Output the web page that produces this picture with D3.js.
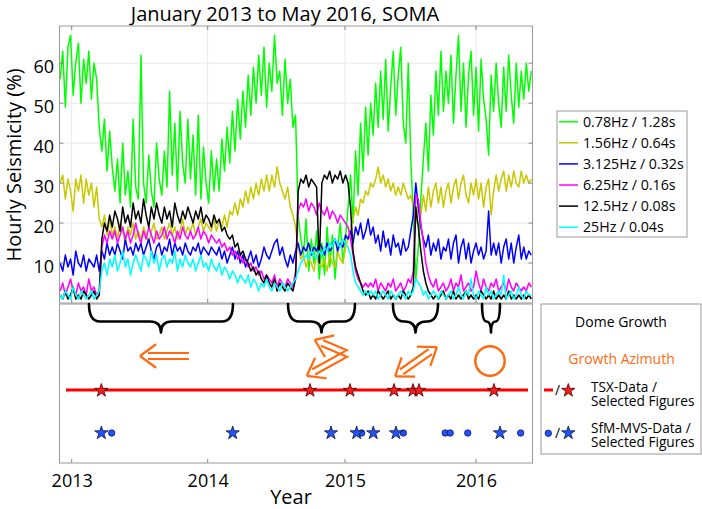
<!DOCTYPE html>
<html>
<head>
<meta charset="utf-8">
<script src="https://cdn.jsdelivr.net/npm/d3@7"></script>
<style>
  body { margin: 0; background: #fff; }
  svg text { font-family: "Open Sans", "Noto Sans", sans-serif; }
</style>
</head>
<body>
<svg id="chart" width="702" height="509"></svg>
<script>
// ---- data ----
var years = [2013, 2014, 2015, 2016];
var yTicks = [10, 20, 30, 40, 50, 60];
var seriesNames = ['0.78Hz / 1.28s', '1.56Hz / 0.64s', '3.125Hz / 0.32s', '6.25Hz / 0.16s', '12.5Hz / 0.08s', '25Hz / 0.04s'];

// weekly samples, first one on 1 Dec 2012
var startYear = 2012.915;
var stepYears = 7 / 365.25;

var green = [56,63,49,64,67,52,60,65,50,61, 55,63,51,60,56,44,38,46,33,43,
  34,28,36,25,40,27,33,24,46,29, 26,62,30,25,37,28,24,40,31,27,
  38,29,53,32,45,28,48,35,30,46, 31,42,27,47,26,39,30,25,38,28,
  36,28,41,33,44,35,48,38,51,41, 53,44,57,47,59,50,62,52,64,49,
  60,53,67,55,58,47,61,50,56,44, 47,22,16,12,21,8,16,10,18,6,
  15,7,19,9,17,6,14,20,10,16, 24,32,20,38,27,45,33,49,37,50,
  42,55,44,58,46,61,43,54,63,47, 57,64,45,40,60,36,22,6,14,26,
  36,45,33,52,42,58,47,63,48,58, 50,62,45,57,67,48,60,44,57,63,
  47,59,43,61,51,46,37,57,48,60, 50,44,59,48,62,52,45,60,49,58,
  51,60,53,58];
var yellow = [30,32,26,31,28,23,31,28,32,25, 31,27,30,24,29,21,19,22,17,21,
  17,19,16,20,18,15,19,17,20,16, 18,16,19,17,15,18,20,16,17,19,
  16,18,20,17,19,16,18,21,17,19, 18,20,17,19,21,18,20,19,18,21,
  18,21,19,22,19,23,22,25,22,26, 24,28,25,29,26,30,27,31,28,32,
  28,32,29,34,30,28,26,29,24,22, 19,14,11,12,9,11,10,8,12,10,
  9,11,8,12,10,9,13,11,10,14, 16,19,21,24,22,26,25,28,27,30,
  29,31,34,30,32,29,31,28,30,27, 29,27,30,28,26,27,24,20,25,22,
  27,23,29,24,28,30,25,29,24,28, 30,25,29,31,26,30,32,27,25,30,
  27,31,26,30,24,29,31,22,28,32, 28,31,33,28,32,29,33,30,29,33,
  30,32,30,31];
var blue = [10,8,12,9,11,7,13,10,9,12, 8,11,10,9,12,8,13,11,15,12,
  14,12,15,13,11,16,13,14,12,15, 13,15,12,14,16,13,11,14,15,12,
  14,13,16,12,15,13,14,12,15,13, 12,14,13,15,12,14,13,12,14,13,
  12,14,11,13,10,12,14,11,13,10, 12,9,11,13,10,12,9,11,14,12,
  11,13,15,16,12,14,11,9,12,10, 13,15,12,14,13,15,12,14,13,15,
  14,12,15,13,14,16,13,15,14,17, 16,18,15,19,17,20,16,18,21,17,
  19,15,17,13,18,14,16,12,17,14, 15,12,16,13,14,18,22,30,24,19,
  16,14,17,12,15,13,16,11,14,13, 16,11,15,17,10,14,16,11,15,10,
  13,15,12,14,11,13,23,12,15,12, 15,10,14,16,11,15,10,14,17,11,
  14,11,13,12];
var magenta = [3,5,2,4,6,3,2,5,3,4, 2,6,3,4,2,3,14,17,15,18,
  16,18,15,17,19,16,18,15,17,20, 17,15,18,16,19,17,15,18,16,17,
  19,16,18,17,15,18,16,19,17,16, 18,16,17,19,16,18,17,15,17,16,
  15,16,14,15,13,14,12,13,11,12, 10,11,9,10,8,9,7,8,6,7,
  6,5,7,4,6,5,4,6,5,4, 8,23,25,24,26,23,25,24,22,25,
  23,22,24,21,23,22,20,22,21,20, 19,16,12,8,6,5,4,5,4,5,
  4,6,3,5,4,3,5,4,6,3, 4,5,3,4,6,5,8,27,26,20,
  15,10,7,5,4,6,3,4,5,3, 4,6,3,5,4,7,3,4,5,3,
  4,8,5,3,6,4,3,5,4,6, 3,4,5,3,6,4,3,5,4,3,
  4,3,5,4];
var black = [2,1,3,1,2,4,1,2,1,3, 2,1,2,3,1,2,16,20,18,22,
  19,23,21,18,24,20,22,19,25,21, 23,20,26,22,19,24,21,25,22,20,
  24,21,23,19,25,22,20,23,21,24, 22,20,23,21,24,20,22,21,19,22,
  20,21,18,19,17,16,17,14,15,12, 13,11,10,8,9,7,8,6,5,7,
  5,4,6,3,5,4,3,5,4,3, 6,28,31,30,32,29,31,30,29,10,
  30,32,31,33,30,32,31,33,30,32, 30,24,13,9,7,5,3,2,3,1,
  2,1,3,2,1,2,3,1,2,1, 2,1,3,2,1,2,4,24,19,13,
  8,5,3,2,1,2,1,2,3,1, 2,1,3,1,2,1,2,3,1,2,
  1,2,1,3,2,1,2,1,3,1, 2,1,2,1,3,1,2,1,2,1,
  2,1,2,1];
var cyan = [2,1,3,2,1,4,2,1,3,2, 1,2,3,1,2,3,8,10,7,11,
  9,12,8,10,13,9,11,7,10,12, 10,8,12,11,9,13,10,12,8,11,
  12,9,11,10,13,8,11,9,12,10, 9,11,8,10,12,9,10,8,11,9,
  8,10,7,9,8,6,8,7,5,7, 6,5,7,4,6,5,3,5,4,6,
  4,3,5,4,3,5,4,3,4,5, 6,8,10,11,12,11,13,12,11,13,
  12,14,13,15,14,16,15,14,16,15, 14,12,8,5,4,3,2,3,2,3,
  2,3,1,2,3,2,1,3,2,1, 2,3,2,1,3,2,3,6,5,4,
  2,3,1,2,3,2,1,3,2,1, 2,3,1,2,4,2,1,3,2,6,
  2,1,3,2,1,4,2,3,1,2, 3,2,7,1,2,3,1,2,4,2,
  1,3,2,2];

// dome growth periods (start / end, decimal year)
var braceStart = [2013.127, 2014.585, 2015.366, 2016.046];
var braceEnd = [2014.184, 2015.076, 2015.710, 2016.183];

// growth azimuth: arrow origins (decimal year) and headings (deg, clockwise from north)
var azimuthYear = [2013.862, 2015.015, 2015.542];
var azimuthHeadings = [[270], [293, 241], [55, 235]];
var radialGrowthYear = [2016.107];

// TSX data span and selected figures
var tsxSpan = [2012.958, 2016.397];
var tsxSelected = [2013.218, 2014.745, 2015.038, 2015.374, 2015.519, 2015.565, 2016.137];
// SfM-MVS acquisitions and selected figures
var sfmData = [2013.294, 2015.127, 2015.445, 2015.765, 2015.803, 2015.937, 2016.341];
var sfmSelected = [2013.218, 2014.182, 2014.898, 2015.089, 2015.216, 2015.389, 2016.183];

// ---- layout ----
var seriesValues = [green, yellow, blue, magenta, black, cyan];
var seriesColors = ['#00ff00', '#c8c800', '#0000ff', '#ff00ff', '#000000', '#00ffff'];
var orange = '#ff6a10';
var frame = '#9a9a9a';

var plotL = 59.5, plotR = 532.5;
var topT = 26, topB = 303, botT = 304, botB = 463;

var svg = d3.select('#chart');

var x = d3.scaleLinear().domain(years).range([71.7, 207.7, 345, 476]);
var y = d3.scaleLinear().domain([0, 69.3]).range([topB, topT]);

// Title
svg.append('text')
  .attr('x', 285).attr('y', 21)
  .attr('text-anchor', 'middle')
  .attr('font-size', 20)
  .text('January 2013 to May 2016, SOMA');

// Top panel grid
var gridG = svg.append('g');
gridG.selectAll('.gx').data(years).join('line').attr('class', 'gx')
  .attr('x1', function(d) { return x(d); }).attr('x2', function(d) { return x(d); })
  .attr('y1', topT).attr('y2', topB)
  .attr('stroke', '#e8e8e8');
gridG.selectAll('.gy').data(yTicks).join('line').attr('class', 'gy')
  .attr('x1', plotL).attr('x2', plotR)
  .attr('y1', function(d) { return y(d); }).attr('y2', function(d) { return y(d); })
  .attr('stroke', '#e8e8e8');

// Series
svg.append('clipPath').attr('id', 'clipTop')
  .append('rect').attr('x', plotL).attr('y', topT).attr('width', plotR - plotL).attr('height', topB - topT);

var line = d3.line()
  .x(function(d, i) { return x(startYear + i * stepYears); })
  .y(function(d) { return y(d); });

svg.append('g').attr('clip-path', 'url(#clipTop)')
  .selectAll('path').data(seriesValues).join('path')
  .attr('d', line)
  .attr('fill', 'none')
  .attr('stroke', function(d, i) { return seriesColors[i]; })
  .attr('stroke-width', 1.5)
  .attr('stroke-linejoin', 'round');

// Top panel frame and inward ticks
svg.append('rect')
  .attr('x', plotL).attr('y', topT).attr('width', plotR - plotL).attr('height', topB - topT)
  .attr('fill', 'none').attr('stroke', frame);
var ticks = svg.append('g').attr('stroke', '#888');
years.forEach(function(d) {
  ticks.append('line').attr('x1', x(d)).attr('x2', x(d)).attr('y1', topT).attr('y2', topT + 4);
  ticks.append('line').attr('x1', x(d)).attr('x2', x(d)).attr('y1', topB).attr('y2', topB - 4);
  ticks.append('line').attr('x1', x(d)).attr('x2', x(d)).attr('y1', botB).attr('y2', botB - 4);
});
yTicks.forEach(function(d) {
  ticks.append('line').attr('x1', plotL).attr('x2', plotL + 4).attr('y1', y(d)).attr('y2', y(d));
  ticks.append('line').attr('x1', plotR).attr('x2', plotR - 4).attr('y1', y(d)).attr('y2', y(d));
});

// Y axis labels
svg.append('g')
  .attr('transform', 'translate(' + (plotL - 5.5) + ',0)')
  .call(d3.axisLeft(y).tickValues(yTicks).tickSize(0).tickPadding(0))
  .call(function(g) { g.select('.domain').remove(); })
  .attr('font-family', null).attr('font-size', 18)
  .selectAll('text').attr('dy', '0.5em').attr('fill', '#000');

svg.append('text')
  .attr('transform', 'translate(21,165) rotate(-90)')
  .attr('text-anchor', 'middle')
  .attr('font-size', 20)
  .text('Hourly Seismicity (%)');

// Top legend
var leg = svg.append('g');
leg.append('rect').attr('x', 557).attr('y', 111).attr('width', 130).attr('height', 126)
  .attr('fill', '#fff').attr('stroke', frame);
seriesNames.forEach(function(name, i) {
  var ry = 121.7 + i * 21.1;
  leg.append('line').attr('x1', 559).attr('x2', 578).attr('y1', ry).attr('y2', ry)
    .attr('stroke', seriesColors[i]).attr('stroke-width', 1.5);
  leg.append('text').attr('x', 583).attr('y', ry + 5).attr('font-size', 14.2).text(name);
});

// Bottom panel
svg.append('rect')
  .attr('x', plotL).attr('y', botT).attr('width', plotR - plotL).attr('height', botB - botT)
  .attr('fill', 'none').attr('stroke', frame);

svg.append('g')
  .attr('transform', 'translate(0,' + (botB + 6) + ')')
  .call(d3.axisBottom(x).tickValues(years).tickFormat(d3.format('d')).tickSize(0).tickPadding(0))
  .call(function(g) { g.select('.domain').remove(); })
  .attr('font-family', null).attr('font-size', 18)
  .selectAll('text').attr('dy', '1em').attr('fill', '#000');

svg.append('text')
  .attr('x', 291).attr('y', 504)
  .attr('text-anchor', 'middle')
  .attr('font-size', 20)
  .text('Year');

// Dome growth braces
var braceTop = 304, braceMid = 321.5, braceTip = 332.5;
var braces = svg.append('g').attr('fill', 'none').attr('stroke', '#000')
  .attr('stroke-width', 2.6).attr('stroke-linecap', 'round').attr('stroke-linejoin', 'round');
braceStart.forEach(function(s, i) {
  var x0 = x(s), x1 = x(braceEnd[i]), xm = (x0 + x1) / 2;
  var r = Math.min(11, (x1 - x0) / 4);
  var p = d3.path();
  p.moveTo(x0, braceTop);
  p.quadraticCurveTo(x0, braceMid, x0 + r, braceMid);
  p.lineTo(xm - r, braceMid);
  p.quadraticCurveTo(xm, braceMid, xm, braceTip);
  p.quadraticCurveTo(xm, braceMid, xm + r, braceMid);
  p.lineTo(x1 - r, braceMid);
  p.quadraticCurveTo(x1, braceMid, x1, braceTop);
  braces.append('path').attr('d', p.toString());
});

// Growth azimuth arrows
var arrowRow = [356, 353.5, 361.7];
var arrowLen = [[49], [35, 46], [25.5, 25.5]];
var arrows = svg.append('g').attr('fill', 'none').attr('stroke', orange)
  .attr('stroke-width', 2.2).attr('stroke-linecap', 'butt');
function drawArrow(ox, oy, az, len) {
  var a = az * Math.PI / 180;
  var ux = Math.sin(a), uy = -Math.cos(a);
  var px = -uy, py = ux;
  var tx = ox + ux * len, ty = oy + uy * len;
  var gap = 8, off = 3;
  [-off, off].forEach(function(o) {
    arrows.append('line')
      .attr('x1', ox + px * o).attr('y1', oy + py * o)
      .attr('x2', tx - ux * gap + px * o).attr('y2', ty - uy * gap + py * o);
  });
  var arm = 20, spread = 36 * Math.PI / 180;
  [-spread, spread].forEach(function(s) {
    arrows.append('line')
      .attr('x1', tx).attr('y1', ty)
      .attr('x2', tx + (-ux * Math.cos(s) + uy * Math.sin(s)) * arm)
      .attr('y2', ty + (-ux * Math.sin(s) - uy * Math.cos(s)) * arm);
  });
}
azimuthYear.forEach(function(yr, i) {
  azimuthHeadings[i].forEach(function(h, j) {
    drawArrow(x(yr), arrowRow[i], h, arrowLen[i][j]);
  });
});
arrows.selectAll('circle.radial').data(radialGrowthYear).join('circle').attr('class', 'radial')
  .attr('cx', function(d) { return x(d); }).attr('cy', 361).attr('r', 14.7)
  .attr('stroke-width', 2.5);

// TSX line and stars
var star = d3.symbol().type(d3.symbolStar).size(55);
svg.append('line')
  .attr('x1', x(tsxSpan[0])).attr('x2', x(tsxSpan[1]))
  .attr('y1', 390).attr('y2', 390)
  .attr('stroke', '#ff0000').attr('stroke-width', 3);
svg.append('g').selectAll('path').data(tsxSelected).join('path')
  .attr('d', star)
  .attr('transform', function(d) { return 'translate(' + x(d) + ',390.5)'; })
  .attr('fill', '#ff1a1a').attr('stroke', '#3a0000').attr('stroke-width', 0.8);

// SfM-MVS dots and stars
svg.append('g').selectAll('circle').data(sfmData).join('circle')
  .attr('cx', function(d) { return x(d); }).attr('cy', 433)
  .attr('r', 3.2)
  .attr('fill', '#1f55ff').attr('stroke', '#101060').attr('stroke-width', 0.8);
svg.append('g').selectAll('path').data(sfmSelected).join('path')
  .attr('d', star)
  .attr('transform', function(d) { return 'translate(' + x(d) + ',433)'; })
  .attr('fill', '#1f55ff').attr('stroke', '#101040').attr('stroke-width', 0.8);

// Bottom legend
var leg2 = svg.append('g');
leg2.append('rect').attr('x', 541).attr('y', 304).attr('width', 160).attr('height', 150)
  .attr('fill', '#fff').attr('stroke', frame);
leg2.append('text').attr('x', 621).attr('y', 326.7).attr('text-anchor', 'middle')
  .attr('font-size', 14).text('Dome Growth');
leg2.append('text').attr('x', 621.5).attr('y', 364).attr('text-anchor', 'middle')
  .attr('font-size', 14).attr('fill', orange).text('Growth Azimuth');
leg2.append('line').attr('x1', 544).attr('x2', 553).attr('y1', 390).attr('y2', 390)
  .attr('stroke', '#ff0000').attr('stroke-width', 3);
leg2.append('text').attr('x', 557.5).attr('y', 395).attr('text-anchor', 'middle')
  .attr('font-size', 14).text('/');
leg2.append('path').attr('d', star).attr('transform', 'translate(568.3,390.5)')
  .attr('fill', '#ff1a1a').attr('stroke', '#3a0000').attr('stroke-width', 0.8);
leg2.append('text').attr('x', 591).attr('y', 391.5).attr('font-size', 13.7).text('TSX-Data /');
leg2.append('text').attr('x', 591).attr('y', 406).attr('font-size', 13.7).text('Selected Figures');
leg2.append('circle').attr('cx', 548.3).attr('cy', 433.3).attr('r', 3.2)
  .attr('fill', '#1f55ff').attr('stroke', '#101060').attr('stroke-width', 0.8);
leg2.append('text').attr('x', 557.5).attr('y', 438).attr('text-anchor', 'middle')
  .attr('font-size', 14).text('/');
leg2.append('path').attr('d', star).attr('transform', 'translate(568.3,433)')
  .attr('fill', '#1f55ff').attr('stroke', '#101040').attr('stroke-width', 0.8);
leg2.append('text').attr('x', 591).attr('y', 432.5).attr('font-size', 13.7).text('SfM-MVS-Data /');
leg2.append('text').attr('x', 591).attr('y', 447).attr('font-size', 13.7).text('Selected Figures');
</script>
</body>
</html>
